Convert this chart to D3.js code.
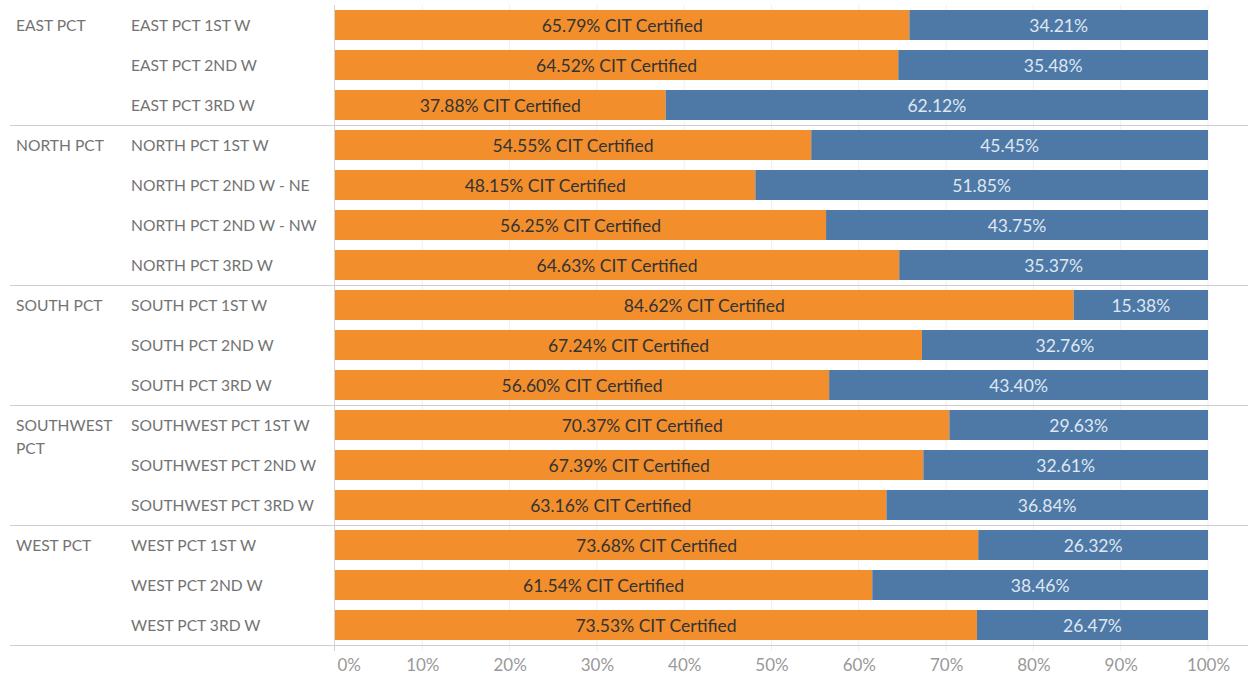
<!DOCTYPE html>
<html><head><meta charset="utf-8">
<script src="https://cdn.jsdelivr.net/npm/d3@7"></script>
<style>body{margin:0;background:#fff;} svg{display:block;}</style>
</head><body>
<svg id="c" width="1248" height="674"></svg>
<script>
const groups = ["EAST PCT","NORTH PCT","SOUTH PCT","SOUTHWEST PCT","WEST PCT"];
const groupSizes = [3,4,3,3,3];
const categories = ["EAST PCT 1ST W","EAST PCT 2ND W","EAST PCT 3RD W",
 "NORTH PCT 1ST W","NORTH PCT 2ND W - NE","NORTH PCT 2ND W - NW","NORTH PCT 3RD W",
 "SOUTH PCT 1ST W","SOUTH PCT 2ND W","SOUTH PCT 3RD W",
 "SOUTHWEST PCT 1ST W","SOUTHWEST PCT 2ND W","SOUTHWEST PCT 3RD W",
 "WEST PCT 1ST W","WEST PCT 2ND W","WEST PCT 3RD W"];
const certified = [65.79,64.52,37.88,54.55,48.15,56.25,64.63,84.62,67.24,56.60,70.37,67.39,63.16,73.68,61.54,73.53];
const notCertified = [34.21,35.48,62.12,45.45,51.85,43.75,35.37,15.38,32.76,43.40,29.63,32.61,36.84,26.32,38.46,26.47];
const xTicks = [0,10,20,30,40,50,60,70,80,90,100];

const svg = d3.select("#c");
const x = d3.scaleLinear().domain([0,100]).range([335,1208]);
const y = d3.scaleBand().domain(categories).range([5,645]).paddingInner(0.25).paddingOuter(0.125);
const font = "Lato, sans-serif";
const barFont = "Lato, sans-serif";

// gridlines
svg.append("g").selectAll("line").data(xTicks.slice(1)).join("line")
  .attr("x1",d=>x(d)).attr("x2",d=>x(d)).attr("y1",5).attr("y2",651)
  .attr("stroke","#f0f0f0").attr("stroke-width",1);

// bars
const rows = categories.map((c,i)=>({c, a:certified[i], b:notCertified[i]}));
svg.append("g").selectAll("rect").data(rows).join("rect")
  .attr("x",x(0)).attr("y",d=>y(d.c)).attr("width",d=>x(d.a)-x(0)).attr("height",y.bandwidth())
  .attr("fill","#F28E2B");
svg.append("g").selectAll("rect").data(rows).join("rect")
  .attr("x",d=>x(d.a)).attr("y",d=>y(d.c)).attr("width",d=>x(d.a+d.b)-x(d.a)).attr("height",y.bandwidth())
  .attr("fill","#4E79A7");

svg.append("g").selectAll("text").data(rows).join("text")
  .attr("x",d=>(x(0)+x(d.a))/2).attr("y",d=>y(d.c)+y.bandwidth()/2+0.5)
  .attr("dy","0.35em").attr("text-anchor","middle")
  .attr("font-family",barFont).attr("font-size",17.5).attr("fill","#333")
  .text(d=>d.a.toFixed(2)+"% CIT Certified");
svg.append("g").selectAll("text").data(rows).join("text")
  .attr("x",d=>(x(d.a)+x(d.a+d.b))/2).attr("y",d=>y(d.c)+y.bandwidth()/2+0.5)
  .attr("dy","0.35em").attr("text-anchor","middle")
  .attr("font-family",barFont).attr("font-size",17.5).attr("fill","#dfe7f1")
  .text(d=>d.b.toFixed(2)+"%");

// row labels
svg.append("g").selectAll("text").data(categories).join("text")
  .attr("x",131).attr("y",d=>y(d)+y.bandwidth()/2+0.5).attr("dy","0.35em")
  .attr("font-family",font).attr("font-size",15.6).attr("fill","#737373")
  .text(d=>d);

// group labels and separators
let start = 0;
const step = y.step();
groups.forEach((g,gi)=>{
  const first = categories[start];
  const top = y(first) - y.paddingOuter()*step;
  const lines = g==="SOUTHWEST PCT" ? ["SOUTHWEST","PCT"] : [g];
  lines.forEach((t,li)=>{
    svg.append("text").attr("x",16).attr("y",top+20.5+li*23).attr("dy","0.35em")
      .attr("font-family",font).attr("font-size",15.6).attr("fill","#737373").text(t);
  });
  start += groupSizes[gi];
  const bottom = top + groupSizes[gi]*step;
  svg.append("line").attr("x1",10).attr("x2",1248).attr("y1",bottom+0.5).attr("y2",bottom+0.5)
    .attr("stroke","#cfcfcf").attr("stroke-width",1);
});

// vertical axis line
svg.append("line").attr("x1",334.5).attr("x2",334.5).attr("y1",5).attr("y2",651)
  .attr("stroke","#d4d4d4").attr("stroke-width",1);

// x axis
const ax = svg.append("g").attr("transform","translate(0,651)")
  .call(d3.axisBottom(x).tickValues(xTicks).tickFormat(d=>d+"%").tickSize(0).tickPadding(0));
ax.select(".domain").remove();
ax.selectAll("text").attr("y",14).attr("dy","0.35em")
  .attr("font-family",font).attr("font-size",17).attr("fill","#999");
ax.selectAll(".tick").filter(d=>d===0).select("text").attr("text-anchor","start").attr("x",2);
</script>
</body></html>
